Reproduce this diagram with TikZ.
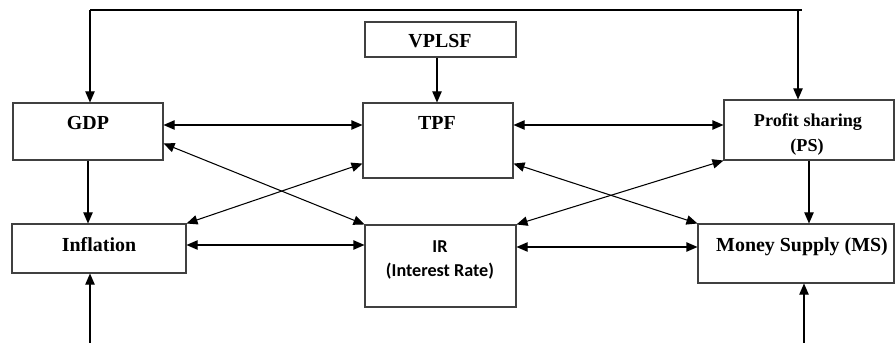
\documentclass[tikz,border=0pt]{standalone}
\usepackage{fontspec}
\setmainfont{Liberation Serif}
\newfontfamily\calibfont{Carlito}
\usetikzlibrary{arrows.meta,fit}

\begin{document}
\begin{tikzpicture}[x=0.03cm,y=-0.03cm,
    box/.style={draw=black!75,line width=0.9pt,inner sep=0pt},
    lbl/.style={anchor=base,inner sep=0pt,font=\fontsize{17}{20}\selectfont\bfseries},
    lblsmall/.style={anchor=base,inner sep=0pt,font=\fontsize{15.5}{18}\selectfont\bfseries},
    lblsans/.style={anchor=base,inner sep=0pt,font=\calibfont\fontsize{15.5}{18}\selectfont\bfseries},
    arr/.style={line width=0.9pt,-{Triangle[length=3.3mm,width=2.8mm]}},
    darr/.style={line width=0.9pt,{Triangle[length=3.3mm,width=2.8mm]}-{Triangle[length=3.3mm,width=2.8mm]}}]
  \useasboundingbox (0,0) rectangle (895,343);
  % boxes
  \node[box,fit={(13,103) (163,160)}] (gdp) {};
  \node[box,fit={(365,22) (516,57)}] (vplsf) {};
  \node[box,fit={(363,103) (513,178)}] (tpf) {};
  \node[box,fit={(724,100) (894,160)}] (ps) {};
  \node[box,fit={(12,224) (186,273)}] (infl) {};
  \node[box,fit={(365,225) (516,307)}] (ir) {};
  \node[box,fit={(698,224) (894,283)}] (ms) {};
  % texts
  \node[lbl] (gdp-t) at (88,130) {GDP};
  \node[lbl] (vplsf-t) at (440,48) {VPLSF};
  \node[lbl] (tpf-t) at (437,130) {TPF};
  \node[lblsmall] (ps-t1) at (808,127) {Profit sharing};
  \node[lblsmall] (ps-t2) at (807,152) {(PS)};
  \node[lbl] (infl-t) at (99,252) {Inflation};
  \node[lblsans] (ir-t1) at (440,253) {IR};
  \node[lblsans] (ir-t2) at (440,276) {(Interest Rate)};
  \node[lbl] (ms-t) at (802,252) {Money Supply (MS)};
  % helper points
  \coordinate (tl) at (90,10);
  \coordinate (tr) at (798,10);
  \coordinate (bl) at (90,343);
  \coordinate (br) at (804,343);
  \coordinate (row1) at (0,125);
  \coordinate (row2) at (0,245);
  \coordinate (row3) at (0,247);
  % feedback line on top
  \draw[arr] (tl) -- (tl |- gdp.north);
  \draw[arr] (tl) -- (tr) -- (tr |- ps.north);
  \draw[line width=0.9pt] (tr) -- ++(4,0);
  % vertical links
  \draw[arr] (vplsf.south -| tpf-t) -- (tpf.north -| tpf-t);
  \draw[arr] (gdp.south) -- (gdp.south |- infl.north);
  \draw[arr] (ps.south) -- (ps.south |- ms.north);
  \draw[arr] (bl) -- (bl |- infl.south);
  \draw[arr] (br) -- (br |- ms.south);
  % horizontal links
  \draw[darr] (gdp.east |- row1) -- (tpf.west |- row1);
  \draw[darr] (tpf.east |- row1) -- (ps.west |- row1);
  \draw[darr] (infl.east |- row2) -- (ir.west |- row2);
  \draw[darr] (ir.east |- row3) -- (ms.west |- row3);
  % cross links
  \draw[darr] (gdp.-9) -- (ir.north west);
  \draw[darr] (infl.north east) -- (tpf.197);
  \draw[darr] (tpf.-17) -- (ms.north west);
  \draw[darr] (ir.north east) -- (ps.south west);
\end{tikzpicture}
\end{document}
